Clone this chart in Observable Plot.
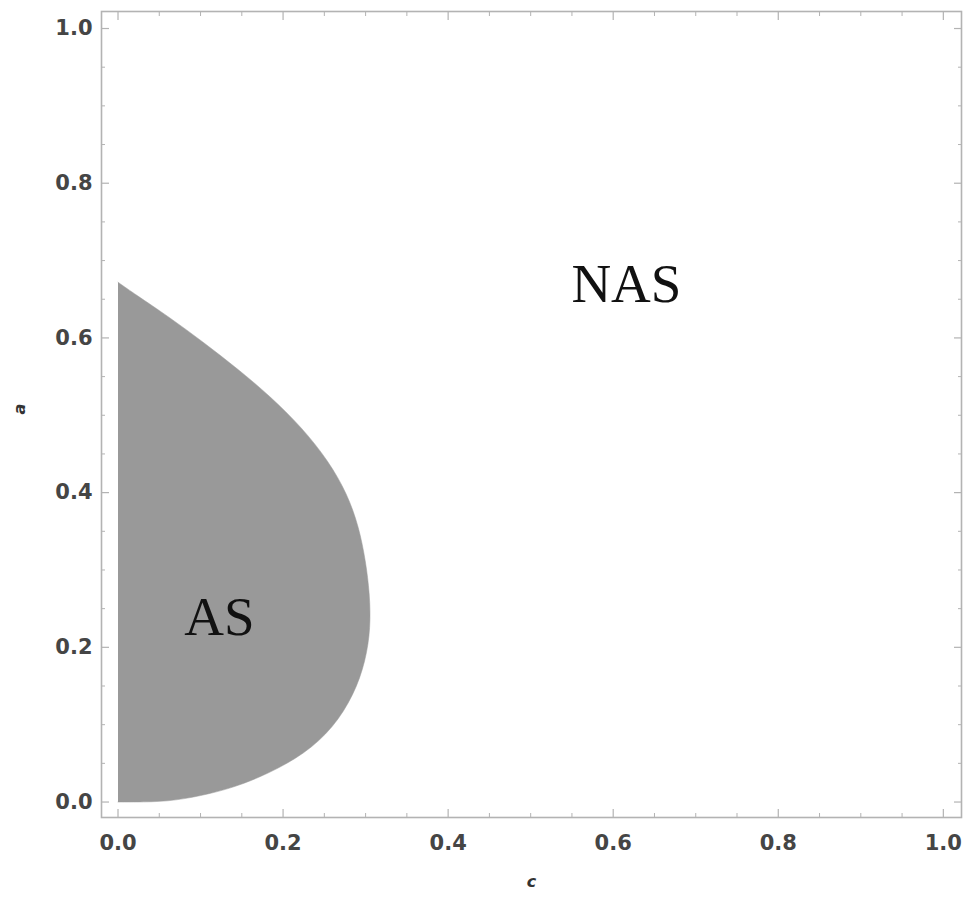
<!DOCTYPE html>
<html>
<head>
<meta charset="utf-8">
<script src="https://cdn.jsdelivr.net/npm/d3@7"></script>
<script src="https://cdn.jsdelivr.net/npm/@observablehq/plot@0.6"></script>
<style>
  html, body { margin: 0; padding: 0; background: #fff; }
</style>
</head>
<body>
<div id="chart"></div>
<script>
// Boundary of the AS region, traced from the bottom (a = 0) up to the tip on the a axis
const boundaryC = [0, 0.019, 0.060, 0.100, 0.140, 0.181, 0.226, 0.261, 0.286, 0.300, 0.306, 0.305, 0.300, 0.292, 0.278, 0.255, 0.223, 0.184, 0.145, 0.104, 0.062, 0.020, 0];
const boundaryA = [0, 0, 0.0004, 0.0078, 0.0185, 0.036, 0.062, 0.096, 0.139, 0.182, 0.225, 0.269, 0.312, 0.355, 0.398, 0.441, 0.484, 0.525, 0.560, 0.594, 0.627, 0.657, 0.672];

// Region labels
const regionNames = ["AS", "NAS"];
const regionC = [0.123, 0.616];
const regionA = [0.239, 0.669];

// Ticks
const majorTicks = [0, 0.2, 0.4, 0.6, 0.8, 1.0];
const majorTickLabels = ["0.0", "0.2", "0.4", "0.6", "0.8", "1.0"];
const minorTicks = [0.05, 0.1, 0.15, 0.25, 0.3, 0.35, 0.45, 0.5, 0.55, 0.65, 0.7, 0.75, 0.85, 0.9, 0.95];

const domain = [-0.02, 1.022];

const region = boundaryC.map((c, i) => ({c, a: boundaryA[i]}));
const labels = regionNames.map((name, i) => ({name, c: regionC[i], a: regionA[i]}));
const fmt = d => majorTickLabels[majorTicks.findIndex(t => Math.abs(t - d) < 1e-9)];

const frameColor = "#b3b3b3";
const textColor = "#454545";

const tickAxes = [];
for (const anchor of ["bottom", "top"]) {
  tickAxes.push(Plot.axisX({anchor, ticks: majorTicks, tickSize: -8, tickFormat: () => "", label: null, color: frameColor, strokeWidth: 1.2}));
  tickAxes.push(Plot.axisX({anchor, ticks: minorTicks, tickSize: -4, tickFormat: () => "", label: null, color: frameColor, strokeWidth: 1}));
}
for (const anchor of ["left", "right"]) {
  tickAxes.push(Plot.axisY({anchor, ticks: majorTicks, tickSize: -8, tickFormat: () => "", label: null, color: frameColor, strokeWidth: 1.2}));
  tickAxes.push(Plot.axisY({anchor, ticks: minorTicks, tickSize: -4, tickFormat: () => "", label: null, color: frameColor, strokeWidth: 1}));
}

const chart = Plot.plot({
  width: 975,
  height: 897,
  marginLeft: 101,
  marginRight: 14,
  marginTop: 11,
  marginBottom: 80,
  style: {fontFamily: "DejaVu Sans", background: "#fff"},
  x: {domain, axis: null},
  y: {domain, axis: null},
  marks: [
    Plot.line(region, {x: "c", y: "a", fill: "#999999", stroke: "#999999", strokeWidth: 0.5, curve: "basis"}),
    Plot.frame({stroke: frameColor, strokeWidth: 1.6}),
    ...tickAxes,
    Plot.axisX({anchor: "bottom", ticks: majorTicks, tickSize: 0, tickPadding: 18, tickFormat: fmt, label: null, color: textColor, fontSize: 21, fontWeight: "bold"}),
    Plot.axisY({anchor: "left", ticks: majorTicks, tickSize: 0, tickPadding: 9, tickFormat: fmt, label: null, color: textColor, fontSize: 21, fontWeight: "bold"}),
    Plot.text(["c"], {frameAnchor: "bottom", dy: 64, lineAnchor: "middle", text: d => d, fontSize: 16, fontWeight: "bold", fontStyle: "italic", fill: "#333"}),
    Plot.text(["a"], {frameAnchor: "left", dx: -82, rotate: -90, lineAnchor: "middle", text: d => d, fontSize: 16, fontWeight: "bold", fontStyle: "italic", fill: "#333"}),
    Plot.text(labels, {x: "c", y: "a", text: "name", lineAnchor: "middle", fontFamily: "Liberation Serif", fontSize: 55, fill: "#111"})
  ]
});
document.getElementById("chart").appendChild(chart);
</script>
</body>
</html>
